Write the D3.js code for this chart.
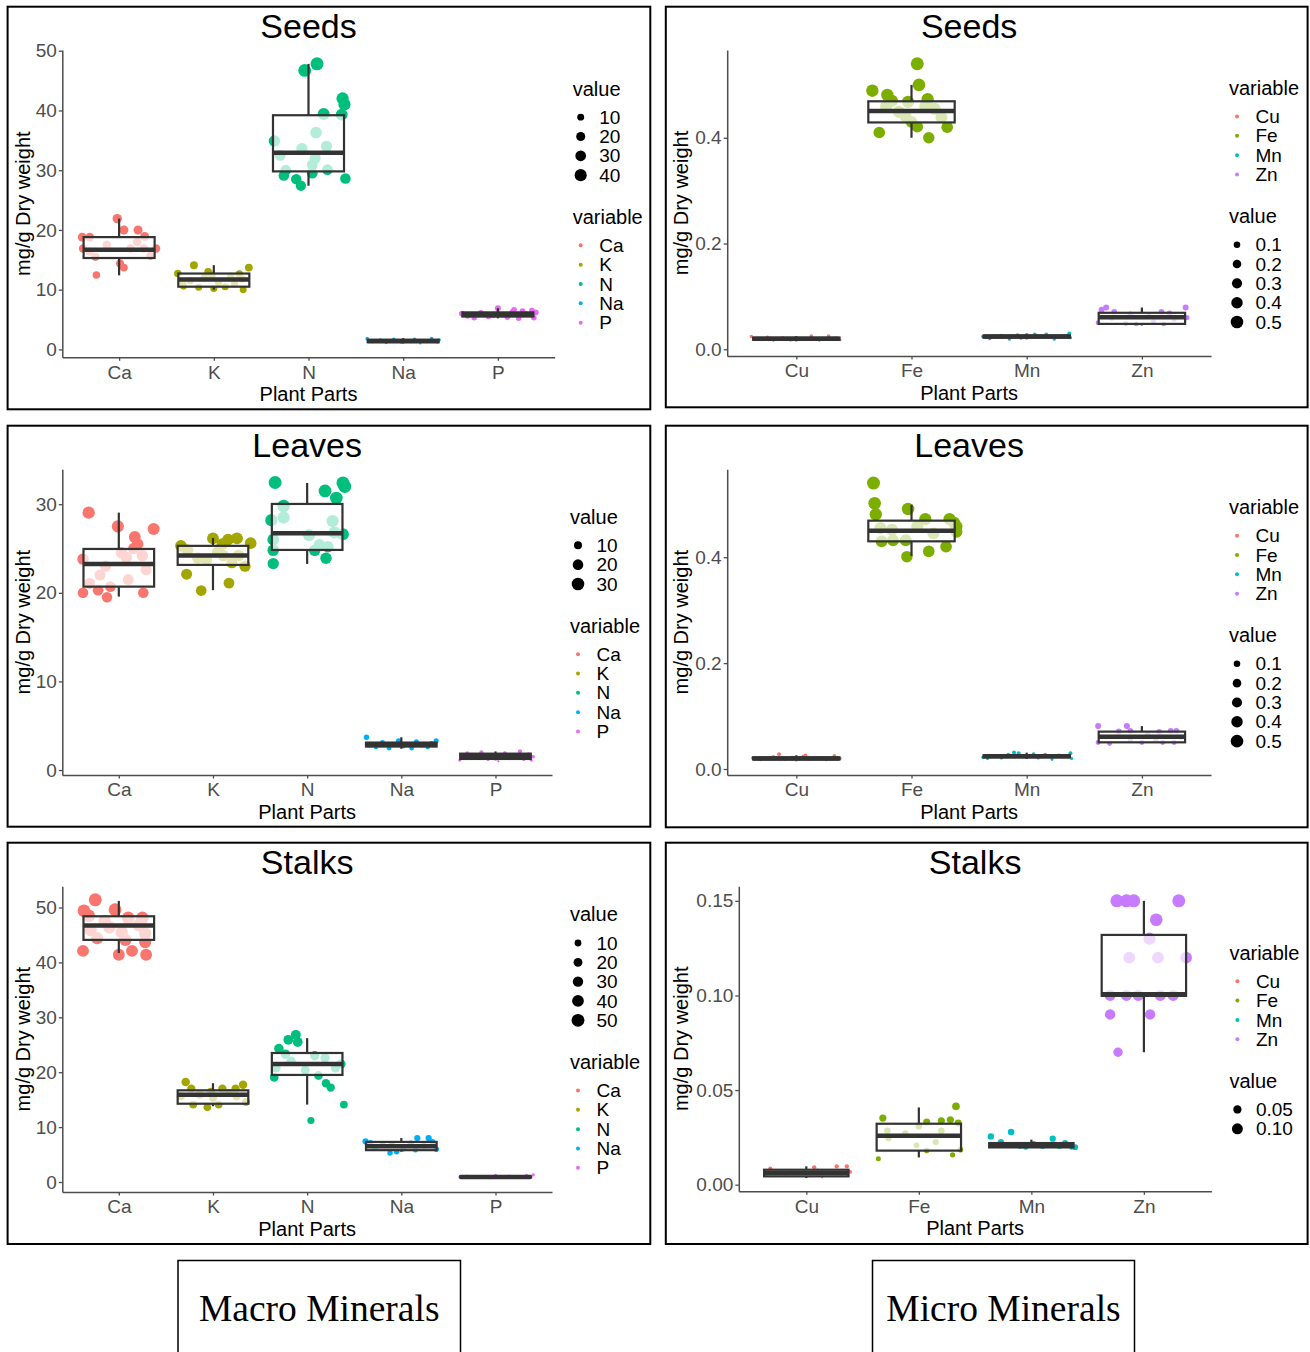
<!DOCTYPE html>
<html>
<head>
<meta charset="utf-8">
<script src="https://cdn.jsdelivr.net/npm/d3@7"></script>
<style>
  body { margin: 0; background: #fff; }
  svg { display: block; }
  text { font-family: "Liberation Sans", Arial, Helvetica, sans-serif; }
</style>
</head>
<body>
<svg id="chart" width="1310" height="1352"></svg>
<script>
// ---- data ----
const macroCats = ["Ca", "K", "N", "Na", "P"];
const microCats = ["Cu", "Fe", "Mn", "Zn"];
const macroColors = ["#F8766D", "#A3A500", "#00BF7D", "#00B0F6", "#E76BF3"];
const microColors = ["#F8766D", "#7CAE00", "#00BFC4", "#C77CFF"];

// box stats per category: [lower whisker, Q1, median, Q3, upper whisker]
// points per category: [value, jitter offset in category widths]
const seedsMacroBox = [
  [12.4, 15.3, 16.7, 18.8, 21.9],
  [10.0, 10.5, 11.7, 12.7, 14.1],
  [27.4, 29.8, 32.9, 39.2, 47.8],
  [1.0, 1.2, 1.4, 1.6, 1.9],
  [5.2, 5.5, 5.8, 6.2, 6.9]
];
const seedsMacroPts = [
  [[21.9,-0.02],[18.8,-0.39],[18.8,-0.31],[16.9,-0.38],[15.5,-0.25],[12.45,-0.24],[20.0,0.05],[14.4,0.01],[13.7,0.05],[20.0,0.2],[18.9,0.27],[16.9,0.39],[15.7,0.33],[16.9,0.12],[16.9,0.26],[17.5,-0.13],[18.0,0.19],[16.4,-0.31]],
  [[12.7,-0.38],[10.6,-0.32],[14.1,-0.21],[10.4,-0.16],[13.0,-0.06],[10.2,0.0],[10.5,0.12],[12.6,0.27],[10.0,0.31],[13.7,0.37],[11.5,-0.25],[12.0,-0.1],[11.2,0.05],[12.2,0.18],[11.8,0.3],[11.0,0.22],[12.4,-0.02],[11.3,-0.33]],
  [[46.7,-0.04],[47.8,0.09],[42.0,0.36],[41.0,0.38],[39.3,0.35],[39.4,0.16],[34.9,-0.36],[29.1,-0.26],[28.5,-0.13],[27.4,-0.08],[29.5,0.04],[30.1,0.2],[28.6,0.39],[36.3,0.08],[34.0,0.19],[33.6,-0.07],[32.0,0.07],[30.9,0.04],[30.0,-0.24],[32.5,-0.3]],
  [[1.8,-0.38],[1.3,-0.33],[1.6,-0.24],[1.1,-0.18],[1.7,-0.1],[1.2,-0.02],[1.5,0.05],[1.7,0.12],[1.0,0.18],[1.4,0.24],[1.8,0.3],[1.2,0.36],[1.5,-0.3],[1.3,0.08],[1.6,0.38]],
  [[6.0,-0.38],[5.6,-0.32],[5.3,-0.25],[6.1,-0.18],[5.5,-0.1],[6.9,0.0],[5.8,0.05],[5.4,0.1],[6.2,0.15],[6.6,0.17],[5.2,0.22],[6.4,0.26],[5.9,0.3],[6.5,0.36],[5.3,0.38],[6.2,0.4],[5.7,-0.05]]
];

const seedsMicroBox = [
  [0.015, 0.018, 0.020, 0.022, 0.025],
  [0.400, 0.429, 0.4505, 0.469, 0.500],
  [0.019, 0.022, 0.024, 0.026, 0.030],
  [0.045, 0.048, 0.0605, 0.069, 0.079]
];
const seedsMicroPts = [
  [[0.024,-0.39],[0.018,-0.3],[0.016,-0.2],[0.022,-0.12],[0.017,-0.05],[0.020,0.02],[0.025,0.13],[0.019,0.08],[0.016,0.2],[0.025,0.28],[0.021,0.34],[0.018,0.38],[0.023,-0.25],[0.020,0.22]],
  [[0.489,-0.34],[0.41,-0.28],[0.481,-0.21],[0.54,0.05],[0.50,0.065],[0.40,0.15],[0.42,0.31],[0.473,0.14],[0.421,0.05],[0.468,-0.03],[0.459,-0.22],[0.449,-0.11],[0.459,0.12],[0.439,0.26],[0.44,-0.05],[0.455,0.2],[0.43,0.0],[0.47,-0.17]],
  [[0.024,-0.38],[0.020,-0.32],[0.026,-0.22],[0.019,-0.15],[0.027,-0.08],[0.022,0.0],[0.028,0.07],[0.023,0.12],[0.028,0.17],[0.019,0.24],[0.025,0.3],[0.030,0.37],[0.022,0.38],[0.021,-0.05]],
  [[0.079,-0.31],[0.079,0.38],[0.060,0.39],[0.071,-0.24],[0.049,-0.14],[0.048,-0.05],[0.048,0.19],[0.068,0.24],[0.071,0.17],[0.059,-0.26],[0.062,0.06],[0.057,0.28],[0.066,-0.1],[0.052,0.1],[0.075,-0.35],[0.050,-0.38]]
];

const leavesMacroBox = [
  [19.57, 20.7, 23.26, 24.95, 29.05],
  [20.3, 23.15, 24.2, 25.3, 26.2],
  [23.26, 24.84, 26.72, 30.03, 32.4],
  [2.4, 2.65, 2.85, 3.1, 3.7],
  [1.1, 1.25, 1.55, 1.85, 2.1]
];
const leavesMacroPts = [
  [[29.05,-0.32],[27.5,-0.01],[26.3,0.17],[27.2,0.37],[23.8,-0.38],[20.0,-0.38],[19.5,-0.125],[20.7,-0.09],[20.0,0.26],[24.2,0.25],[25.0,0.16],[21.1,-0.31],[23.0,-0.14],[24.5,0.03],[22.6,0.29],[22.0,-0.2],[21.5,0.1],[24.0,0.08],[25.5,0.2],[20.3,-0.22]],
  [[25.3,-0.34],[22.1,-0.28],[20.25,-0.125],[26.15,0.0],[26.0,0.16],[21.1,0.17],[26.15,0.255],[25.6,0.4],[23.0,0.34],[25.5,0.1],[24.8,-0.27],[23.7,-0.07],[24.2,0.11],[24.2,0.27],[23.9,-0.16],[24.6,0.05],[23.4,0.2]],
  [[32.45,-0.34],[32.4,0.38],[32.0,0.4],[31.5,0.19],[30.7,0.31],[28.2,-0.38],[26.0,-0.36],[24.8,-0.36],[23.3,-0.36],[23.9,0.2],[26.6,0.38],[24.8,0.08],[29.8,-0.25],[28.5,-0.25],[28.1,0.27],[26.8,0.29],[25.4,0.13],[26.5,0.02],[25.2,0.22]],
  [[3.7,-0.37],[2.8,-0.34],[2.6,-0.27],[3.1,-0.2],[2.45,-0.13],[3.3,-0.03],[2.7,0.02],[2.9,0.08],[2.45,0.11],[3.2,0.16],[2.8,0.22],[2.6,0.28],[3.0,0.32],[3.3,0.37],[2.9,-0.08]],
  [[1.1,-0.38],[1.9,-0.3],[1.4,-0.22],[2.0,-0.15],[1.2,-0.08],[1.7,-0.02],[1.0,0.03],[1.9,0.1],[1.3,0.15],[1.6,0.2],[2.1,0.26],[1.2,0.3],[1.8,0.35],[1.1,0.38],[1.5,0.4]]
];

const leavesMicroBox = [
  [0.016, 0.018, 0.020, 0.022, 0.026],
  [0.4025, 0.430, 0.450, 0.469, 0.499],
  [0.019, 0.022, 0.024, 0.026, 0.031],
  [0.050, 0.0504, 0.061, 0.0706, 0.081]
];
const leavesMicroPts = [
  [[0.021,-0.38],[0.017,-0.31],[0.019,-0.25],[0.023,-0.2],[0.028,-0.15],[0.018,-0.1],[0.022,-0.04],[0.016,0.0],[0.024,0.06],[0.026,0.08],[0.019,0.14],[0.021,0.2],[0.017,0.26],[0.025,0.33],[0.020,0.38]],
  [[0.54,-0.33],[0.502,-0.32],[0.481,-0.31],[0.491,-0.03],[0.401,-0.04],[0.411,0.15],[0.42,0.3],[0.472,0.33],[0.458,0.39],[0.472,0.12],[0.43,-0.26],[0.432,-0.16],[0.432,-0.05],[0.455,-0.27],[0.458,0.05],[0.445,0.19],[0.452,-0.17],[0.465,0.37],[0.448,0.39]],
  [[0.022,-0.38],[0.020,-0.34],[0.025,-0.27],[0.021,-0.22],[0.027,-0.16],[0.031,-0.11],[0.030,-0.07],[0.023,0.0],[0.028,0.06],[0.021,0.1],[0.027,0.16],[0.018,0.22],[0.026,0.28],[0.030,0.38],[0.020,0.39]],
  [[0.081,-0.38],[0.081,-0.13],[0.050,-0.38],[0.048,-0.28],[0.071,-0.2],[0.055,-0.1],[0.072,-0.1],[0.050,0.0],[0.065,0.05],[0.070,0.15],[0.050,0.18],[0.072,0.25],[0.050,0.28],[0.072,0.3],[0.060,0.34],[0.055,0.12]]
];

const stalksMacroBox = [
  [41.7, 44.1, 46.7, 48.4, 51.2],
  [13.8, 14.26, 15.9, 16.7, 18.0],
  [14.1, 19.5, 21.5, 23.5, 26.2],
  [5.5, 5.8, 6.5, 7.3, 8.0],
  [0.7, 0.8, 0.9, 1.05, 1.2]
];
const stalksMacroPts = [
  [[51.4,-0.25],[49.4,-0.37],[42.1,-0.38],[49.6,-0.04],[41.4,0.0],[42.1,0.14],[41.4,0.29],[48.1,0.1],[48.1,0.25],[44.4,-0.23],[44.1,0.07],[43.7,0.28],[45.9,-0.3],[46.4,-0.1],[46.8,0.21],[45.3,0.28],[45.5,0.03],[47.5,-0.15],[48.5,-0.32]],
  [[18.2,-0.29],[17.0,-0.23],[14.1,-0.21],[13.6,-0.06],[14.1,0.06],[17.0,0.1],[17.0,0.24],[17.7,0.32],[15.6,0.25],[15.6,-0.34],[15.9,-0.14],[15.3,0.0],[16.2,0.17],[14.6,0.35],[16.4,-0.02]],
  [[19.05,-0.35],[24.3,-0.3],[25.9,-0.2],[26.8,-0.12],[25.5,-0.1],[11.2,0.04],[19.4,0.12],[18.0,0.2],[17.2,0.25],[14.1,0.39],[23.3,-0.23],[20.4,-0.02],[22.6,0.19],[20.75,0.3],[20.75,-0.33],[22.0,-0.17],[23.0,0.08],[21.5,0.36]],
  [[7.4,-0.38],[7.1,-0.33],[6.3,-0.28],[5.3,-0.12],[5.5,-0.05],[6.8,-0.2],[6.1,0.02],[7.0,0.1],[5.9,0.15],[8.0,0.17],[6.6,0.24],[8.0,0.29],[7.3,0.33],[6.0,0.37],[6.9,-0.1]],
  [[0.9,-0.38],[1.1,-0.3],[0.8,-0.22],[1.0,-0.14],[0.7,-0.06],[1.2,0.0],[0.9,0.08],[1.1,0.14],[0.8,0.2],[1.0,0.27],[1.2,0.33],[0.9,0.38],[1.3,0.4]]
];

const stalksMicroBox = [
  [0.0035, 0.0044, 0.0062, 0.0079, 0.0097],
  [0.0144, 0.018, 0.0259, 0.0322, 0.0408],
  [0.0195, 0.0197, 0.0208, 0.022, 0.0238],
  [0.070, 0.0998, 0.1007, 0.132, 0.150]
];
const stalksMicroPts = [
  [[0.0085,-0.32],[0.0055,-0.36],[0.0062,-0.25],[0.0048,-0.18],[0.0072,-0.1],[0.0058,-0.03],[0.0092,0.07],[0.0039,0.14],[0.0075,0.1],[0.0065,0.2],[0.0097,0.27],[0.0097,0.36],[0.0052,0.31],[0.0068,0.39]],
  [[0.0137,-0.36],[0.0352,-0.32],[0.0331,0.07],[0.0338,0.2],[0.0343,0.28],[0.0414,0.33],[0.0326,0.35],[0.0185,0.37],[0.0158,0.3],[0.018,0.07],[0.0285,-0.28],[0.0246,-0.27],[0.0208,-0.02],[0.0285,0.2],[0.031,0.0],[0.0225,0.15],[0.027,-0.12]],
  [[0.0255,-0.36],[0.0225,-0.27],[0.0278,-0.18],[0.021,-0.3],[0.0205,-0.1],[0.020,-0.05],[0.0215,0.02],[0.0205,0.1],[0.021,0.17],[0.0243,0.19],[0.0205,0.25],[0.022,0.3],[0.020,0.36],[0.0198,0.39]],
  [[0.15,-0.24],[0.15,-0.155],[0.15,-0.09],[0.15,0.31],[0.14,0.11],[0.09,-0.3],[0.09,0.055],[0.07,-0.23],[0.1,-0.3],[0.1,-0.155],[0.1,-0.05],[0.1,0.146],[0.1,0.26],[0.12,0.375],[0.13,0.05],[0.12,-0.13],[0.12,0.125]]
];

// axis ticks / size-legend breaks
const macroTicks50 = [0, 10, 20, 30, 40, 50];
const macroTicks30 = [0, 10, 20, 30];
const microTicks = [0, 0.2, 0.4];
const stalksMicroTicks = [0, 0.05, 0.10, 0.15];
const sizeBreaks = {
  seedsMacro: [10, 20, 30, 40],
  seedsMicro: [0.1, 0.2, 0.3, 0.4, 0.5],
  leavesMacro: [10, 20, 30],
  leavesMicro: [0.1, 0.2, 0.3, 0.4, 0.5],
  stalksMacro: [10, 20, 30, 40, 50],
  stalksMicro: [0.05, 0.10]
};

// ---- panels ----
const panels = [
  { title: "Seeds", cats: macroCats, colors: macroColors, box: seedsMacroBox, pts: seedsMacroPts,
    yDomain: [-1.32, 50.12], ticks: macroTicks50, fmt: "d", sizes: sizeBreaks.seedsMacro, sizeFmt: "d", sizeFirst: true,
    frame: [7.6, 6.7, 650.3, 409.3], plot: [62.3, 50, 554.7, 357.3] },
  { title: "Seeds", cats: microCats, colors: microColors, box: seedsMicroBox, pts: seedsMicroPts,
    yDomain: [-0.0127, 0.566], ticks: microTicks, fmt: ".1f", sizes: sizeBreaks.seedsMicro, sizeFmt: ".1f", sizeFirst: false,
    frame: [665.8, 6.7, 1307.6, 407.3], plot: [727.2, 50, 1211, 356] },
  { title: "Leaves", cats: macroCats, colors: macroColors, box: leavesMacroBox, pts: leavesMacroPts,
    yDomain: [-0.56, 33.94], ticks: macroTicks30, fmt: "d", sizes: sizeBreaks.leavesMacro, sizeFmt: "d", sizeFirst: true,
    frame: [7.6, 425.7, 650.3, 826.7], plot: [62.3, 469.3, 552, 775] },
  { title: "Leaves", cats: microCats, colors: microColors, box: leavesMicroBox, pts: leavesMicroPts,
    yDomain: [-0.0113, 0.566], ticks: microTicks, fmt: ".1f", sizes: sizeBreaks.leavesMicro, sizeFmt: ".1f", sizeFirst: false,
    frame: [665.8, 425.7, 1307.6, 827.3], plot: [727.2, 469.3, 1211, 775] },
  { title: "Stalks", cats: macroCats, colors: macroColors, box: stalksMacroBox, pts: stalksMacroPts,
    yDomain: [-1.82, 53.86], ticks: macroTicks50, fmt: "d", sizes: sizeBreaks.stalksMacro, sizeFmt: "d", sizeFirst: true,
    frame: [7.6, 842.7, 650.3, 1244], plot: [62.3, 886.3, 552, 1192] },
  { title: "Stalks", cats: microCats, colors: microColors, box: stalksMicroBox, pts: stalksMicroPts,
    yDomain: [-0.0035, 0.1577], ticks: stalksMicroTicks, fmt: ".2f", sizes: sizeBreaks.stalksMicro, sizeFmt: ".2f", sizeFirst: false,
    frame: [665.8, 842.7, 1307.6, 1244], plot: [738.8, 886.3, 1211.4, 1191.3] }
];

const svg = d3.select("#chart");
svg.append("rect").attr("width", 1310).attr("height", 1352).attr("fill", "#fff");

const axisGrey = "#4d4d4d";
const dark = "#333333";

panels.forEach(p => {
  const g = svg.append("g");
  const [fx0, fy0, fx1, fy1] = p.frame;
  const [x0, y0, x1, y1] = p.plot;

  g.append("rect")
    .attr("x", fx0).attr("y", fy0)
    .attr("width", fx1 - fx0).attr("height", fy1 - fy0)
    .attr("fill", "none").attr("stroke", "#000").attr("stroke-width", 2);

  const x = d3.scalePoint().domain(p.cats).range([x0, x1]).padding(0.6);
  const y = d3.scaleLinear().domain(p.yDomain).range([y1, y0]);
  const step = x.step();

  // size scale like ggplot's area scale (range 1..6)
  const vals = p.pts.flat().map(d => d[0]);
  const t = d3.scaleLinear().domain(d3.extent(vals)).range([0, 1]).clamp(true);
  const rad = v => 1.1 + 5.4 * Math.sqrt(t(v));

  // jittered points
  p.cats.forEach((c, j) => {
    g.append("g").selectAll("circle")
      .data(p.pts[j])
      .join("circle")
      .attr("cx", d => x(c) + d[1] * step)
      .attr("cy", d => y(d[0]))
      .attr("r", d => rad(d[0]))
      .attr("fill", p.colors[j]);
  });

  // boxplots on top, semi-transparent white fill
  const bw = step * 0.75;
  p.cats.forEach((c, j) => {
    const [lo, q1, med, q3, hi] = p.box[j];
    const cx = x(c);
    g.append("line").attr("x1", cx).attr("x2", cx).attr("y1", y(q3)).attr("y2", y(hi))
      .attr("stroke", dark).attr("stroke-width", 2.2);
    g.append("line").attr("x1", cx).attr("x2", cx).attr("y1", y(q1)).attr("y2", y(lo))
      .attr("stroke", dark).attr("stroke-width", 2.2);
    g.append("rect")
      .attr("x", cx - bw / 2).attr("width", bw)
      .attr("y", y(q3)).attr("height", y(q1) - y(q3))
      .attr("fill", "#fff").attr("fill-opacity", 0.7)
      .attr("stroke", dark).attr("stroke-width", 2.2);
    g.append("line").attr("x1", cx - bw / 2).attr("x2", cx + bw / 2)
      .attr("y1", y(med)).attr("y2", y(med))
      .attr("stroke", dark).attr("stroke-width", 4.5);
  });

  // axes
  const yAx = g.append("g")
    .attr("transform", `translate(${x0},0)`)
    .call(d3.axisLeft(y).tickValues(p.ticks).tickFormat(d3.format(p.fmt))
      .tickSize(3.5).tickSizeOuter(0).tickPadding(2));
  const xAx = g.append("g")
    .attr("transform", `translate(0,${y1})`)
    .call(d3.axisBottom(x).tickSize(3.5).tickSizeOuter(0).tickPadding(4.5));
  [yAx, xAx].forEach(ax => {
    ax.attr("font-size", 19).attr("font-family", null);
    ax.select(".domain").attr("stroke", axisGrey).attr("stroke-width", 1.5);
    ax.selectAll(".tick line").attr("stroke", axisGrey).attr("stroke-width", 1.3);
    ax.selectAll(".tick text").attr("fill", axisGrey);
  });

  const pcx = (x0 + x1) / 2;
  const pcy = (y0 + y1) / 2;

  g.append("text").attr("x", pcx).attr("y", y0 - 12)
    .attr("text-anchor", "middle").attr("font-size", 34).attr("fill", "#000")
    .text(p.title);
  g.append("text").attr("x", pcx).attr("y", y1 + 43.5)
    .attr("text-anchor", "middle").attr("font-size", 20).attr("fill", "#000")
    .text("Plant Parts");
  g.append("text")
    .attr("transform", `translate(${fx0 + 22},${pcy}) rotate(-90)`)
    .attr("text-anchor", "middle").attr("font-size", 20).attr("fill", "#000")
    .text("mg/g Dry weight");

  // legends
  const sizeBlock = { title: "value", items: p.sizes.map(v => ({ label: d3.format(p.sizeFmt)(v), r: rad(v), color: "#000" })) };
  const colBlock = { title: "variable", items: p.cats.map((c, j) => ({ label: c, r: 2, color: p.colors[j] })) };
  const blocks = p.sizeFirst ? [sizeBlock, colBlock] : [colBlock, sizeBlock];
  const gap = 19.33;
  const blockH = b => 21.5 + (b.items.length - 1) * gap;
  const totalH = 15 + blockH(blocks[0]) + 48.7 + blockH(blocks[1]) + 10;
  const lx = x1 + 18;
  let base = pcy + 3 - totalH / 2 + 15;
  blocks.forEach(b => {
    g.append("text").attr("x", lx).attr("y", base)
      .attr("font-size", 20).attr("fill", "#000").text(b.title);
    b.items.forEach((it, k) => {
      const cy = base + 21.5 + k * gap;
      g.append("circle").attr("cx", lx + 8).attr("cy", cy).attr("r", it.r).attr("fill", it.color);
      g.append("text").attr("x", lx + 26.5).attr("y", cy).attr("dy", "0.35em")
        .attr("font-size", 19).attr("fill", "#000").text(it.label);
    });
    base = base + blockH(b) + 48.7;
  });
});

// captions under the two columns
const captions = [
  { text: "Macro Minerals", x: 178, w: 282.5 },
  { text: "Micro Minerals", x: 872.5, w: 262 }
];
captions.forEach(c => {
  svg.append("rect").attr("x", c.x).attr("y", 1260.5).attr("width", c.w).attr("height", 100)
    .attr("fill", "none").attr("stroke", "#000").attr("stroke-width", 1.5);
  svg.append("text").attr("x", c.x + c.w / 2).attr("y", 1321)
    .attr("text-anchor", "middle")
    .style("font-family", "'Liberation Serif', 'Times New Roman', serif")
    .attr("font-size", 37.5).attr("fill", "#000")
    .text(c.text);
});
</script>
</body>
</html>
